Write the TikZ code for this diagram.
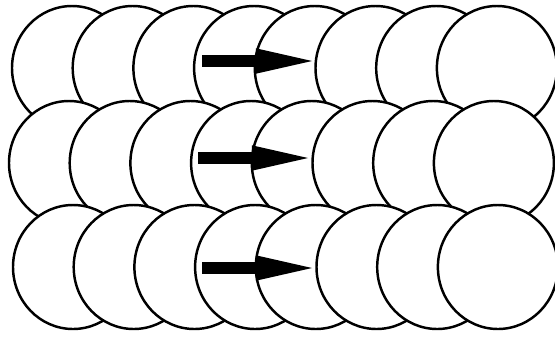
\documentclass[tikz,border=0pt]{standalone}
\usetikzlibrary{arrows.meta}
\begin{document}
\begin{tikzpicture}[x=0.02cm,y=-0.02cm,
 ball/.style={draw=black,fill=white,line width=1.4pt},
 push/.style={line width=7pt,-{Triangle[length=32pt,width=14.5pt,line width=0pt]}}]
\useasboundingbox (0,0) rectangle (555,336);
% three rows of balls, each ball laid over its left neighbour
\foreach \y/\x in {68/12,163/9,267/13}{
 \foreach \i in {0,...,7}{
  \draw[ball] (\x+60+\i*60.7,\y) ellipse [x radius=60,y radius=62];
 }
}
% the shove in each row
\foreach \y/\a/\b/\n in {61/202/312/top,158/198/308/mid,268/202/312/bot}{
 \coordinate (\n tail) at (\a,\y);
 \coordinate (\n tip) at (\b,\y);
 \draw[push] (\n tail) -- (\n tip);
}
\end{tikzpicture}
\end{document}
